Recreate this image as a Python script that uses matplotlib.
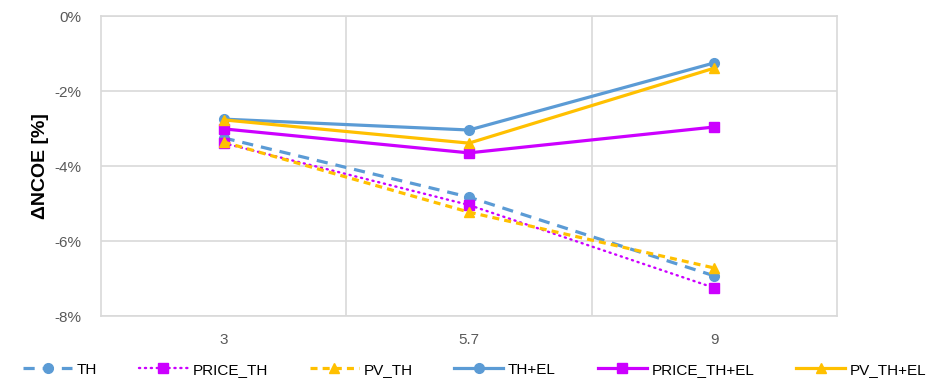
import matplotlib
matplotlib.use("Agg")
import matplotlib.pyplot as plt
from matplotlib.ticker import FuncFormatter, FixedLocator

plt.rcParams['font.family'] = ['Liberation Sans', 'DejaVu Sans']

categories = ["3", "5.7", "9"]

th = [-3.25, -4.83, -6.93]
price_th = [-3.39, -5.04, -7.25]
pv_th = [-3.36, -5.23, -6.72]
th_el = [-2.75, -3.04, -1.25]
price_th_el = [-3.01, -3.65, -2.96]
pv_th_el = [-2.77, -3.39, -1.39]

blue = "#5B9BD5"
magenta = "#CC00FF"
gold = "#FFC000"
grid_col = "#D9D9D9"
text_col = "#595959"

fig = plt.figure(figsize=(9.4, 3.81), dpi=100)
ax = fig.add_axes([0.1074, 0.1706, 0.7830, 0.7874])

x = list(range(len(categories)))

ax.plot(x, th, color=blue, lw=2.3, ls=(0, (3.5, 2.5)), marker="o", ms=7, label="TH", zorder=3)
ax.plot(x, price_th, color=magenta, lw=1.7, ls=(0, (0.5, 2.0)), dash_capstyle="round",
        marker="s", ms=7, label="PRICE_TH", zorder=3)
ax.plot(x, pv_th, color=gold, lw=2.3, ls=(0, (2.2, 1.6)), marker="^", ms=7.5, label="PV_TH", zorder=3)
ax.plot(x, th_el, color=blue, lw=2.3, marker="o", ms=7, label="TH+EL", zorder=3)
ax.plot(x, price_th_el, color=magenta, lw=2.3, marker="s", ms=7, label="PRICE_TH+EL", zorder=3)
ax.plot(x, pv_th_el, color=gold, lw=2.3, marker="^", ms=7.5, label="PV_TH+EL", zorder=3)

ax.set_xlim(-0.5, 2.5)
ax.set_ylim(-8, 0)
ax.set_yticks([0, -2, -4, -6, -8])
ax.yaxis.set_major_formatter(FuncFormatter(lambda v, p: f"{v:.0f}%" if v != 0 else "0%"))
ax.set_xticks(x)
ax.set_xticklabels(categories)
ax.xaxis.set_minor_locator(FixedLocator([0.5, 1.5]))

ax.grid(axis="y", which="major", color=grid_col, lw=1.2, zorder=0)
ax.grid(axis="x", which="minor", color=grid_col, lw=1.2, zorder=0)
ax.tick_params(axis="both", which="both", length=0, colors=text_col, labelsize=11)
ax.tick_params(axis="x", pad=12)
ax.tick_params(axis="y", pad=14)
for s in ax.spines.values():
    s.set_color(grid_col)
    s.set_linewidth(1.2)

ax.set_ylabel("ΔNCOE [%]", fontsize=14, fontweight="bold", color="black", labelpad=4)

fig.legend(loc="lower center", bbox_to_anchor=(0.505, -0.025), ncol=6, frameon=False,
           fontsize=11, handlelength=3.2, columnspacing=2.75, handletextpad=0.3,
           labelcolor="black")

fig.savefig("out.png", dpi=100)
